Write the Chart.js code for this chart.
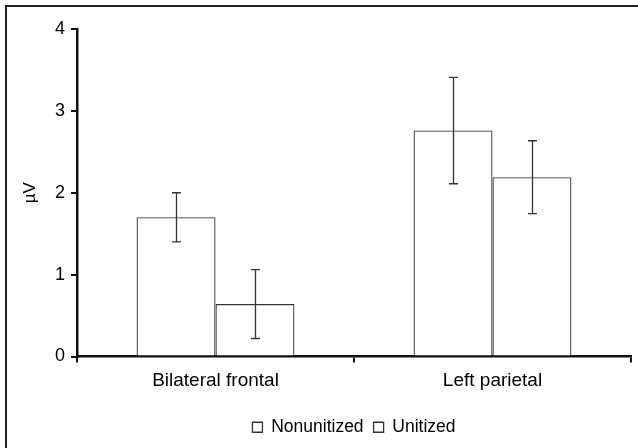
<!DOCTYPE html>
<html>
<head>
<meta charset="utf-8">
<script src="https://cdn.jsdelivr.net/npm/chart.js@4.4.1/dist/chart.umd.min.js"></script>
<style>
html,body{margin:0;padding:0;background:#fff;}
#wrap{width:638px;height:448px;position:relative;}
</style>
</head>
<body>
<div id="wrap"><canvas id="c" width="638" height="448"></canvas></div>
<script>
const categories = ['Bilateral frontal', 'Left parietal'];
const seriesNames = ['Nonunitized', 'Unitized'];
const nonunitized = [1.70, 2.76];
const unitized = [0.64, 2.19];
const nonunitizedErr = [0.30, 0.65];
const unitizedErr = [0.42, 0.445];
const yTicks = [0, 1, 2, 3, 4];

const errors = [nonunitizedErr, unitizedErr];
const FONT = 'Liberation Sans, Arial, sans-serif';

const framePlugin = {
  id: 'frame',
  beforeDraw(chart) {
    const ctx = chart.ctx;
    ctx.save();
    ctx.fillStyle = '#fff';
    ctx.fillRect(0, 0, chart.width, chart.height);
    ctx.strokeStyle = '#222';
    ctx.lineWidth = 2;
    ctx.beginPath();
    ctx.moveTo(6, chart.height);
    ctx.lineTo(6, 6);
    ctx.lineTo(chart.width, 6);
    ctx.stroke();
    ctx.restore();
  }
};

const errorBarPlugin = {
  id: 'errorBars',
  afterDatasetsDraw(chart) {
    const ctx = chart.ctx;
    const y = chart.scales.y;
    ctx.save();
    ctx.strokeStyle = '#333';
    ctx.lineWidth = 1.3;
    chart.data.datasets.forEach((ds, di) => {
      const meta = chart.getDatasetMeta(di);
      meta.data.forEach((bar, i) => {
        const v = ds.data[i];
        const e = errors[di][i];
        const top = y.getPixelForValue(v + e);
        const bot = y.getPixelForValue(v - e);
        const x = Math.round(bar.x) + 0.5;
        const cap = 4.5;
        ctx.beginPath();
        ctx.moveTo(x, top); ctx.lineTo(x, bot);
        ctx.moveTo(x - cap, top); ctx.lineTo(x + cap, top);
        ctx.moveTo(x - cap, bot); ctx.lineTo(x + cap, bot);
        ctx.stroke();
      });
    });
    ctx.restore();
  }
};

new Chart(document.getElementById('c'), {
  type: 'bar',
  data: {
    labels: categories,
    datasets: [
      { label: seriesNames[0], data: nonunitized, backgroundColor: '#fff', borderColor: '#333', borderWidth: 1.3, borderSkipped: 'bottom' },
      { label: seriesNames[1], data: unitized, backgroundColor: '#fff', borderColor: '#333', borderWidth: 1.3, borderSkipped: 'bottom' }
    ]
  },
  options: {
    responsive: false,
    devicePixelRatio: 1,
    animation: false,
    layout: { padding: { left: 0, top: 29, right: 7, bottom: 2 } },
    datasets: { bar: { categoryPercentage: 0.57, barPercentage: 1.0 } },
    plugins: {
      tooltip: { enabled: false },
      legend: {
        position: 'bottom',
        fullSize: false,
        labels: {
          boxWidth: 10, boxHeight: 10, padding: 10,
          color: '#000',
          font: { family: FONT, size: 17.5 }
        }
      }
    },
    scales: {
      x: {
        grid: { display: true, offset: true, drawOnChartArea: false, drawTicks: true, tickLength: 6, color: '#111', lineWidth: 2 },
        border: { display: true, color: '#111', width: 2.5 },
        ticks: { color: '#000', padding: 7, font: { family: FONT, size: 19 } },
        afterFit(scale) { scale.height = 52; }
      },
      y: {
        min: 0, max: 4,
        afterBuildTicks(scale) { scale.ticks = yTicks.map(v => ({ value: v })); },
        grid: { display: true, drawOnChartArea: false, drawTicks: true, tickLength: 6, color: '#111', lineWidth: 2 },
        border: { display: true, color: '#111', width: 2.5 },
        ticks: { color: '#000', padding: 6, font: { family: FONT, size: 18 } },
        title: { display: true, text: 'µV', color: '#000', font: { family: FONT, size: 17 }, padding: { top: 20, bottom: 0 } },
        afterFit(scale) { scale.width = 77; }
      }
    }
  },
  plugins: [framePlugin, errorBarPlugin]
});
</script>
</body>
</html>
